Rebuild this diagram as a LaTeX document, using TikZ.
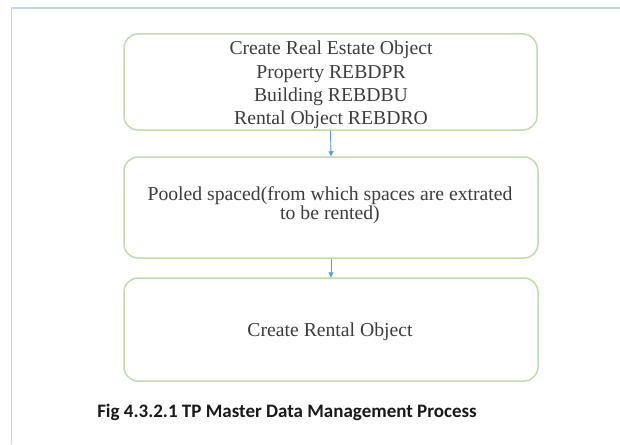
\documentclass[tikz,border=0pt]{standalone}
\usepackage{fontspec}
\setmainfont{Liberation Serif}
\newfontfamily\capfont{Carlito}
\usetikzlibrary{arrows.meta}
\definecolor{frameblue}{RGB}{189,215,238}
\definecolor{boxgreen}{RGB}{190,221,168}
\definecolor{arrowblue}{RGB}{91,155,213}
\definecolor{txtgray}{RGB}{60,60,60}
\definecolor{captxt}{RGB}{25,25,25}
\tikzset{
  procbox/.style={draw=boxgreen, line width=1.5pt, rounded corners=14pt,
    rectangle, inner sep=0pt},
  boxtext/.style={text=txtgray, align=center, inner sep=0pt},
  flowarrow/.style={draw=arrowblue, line width=0.9pt,
    -{Triangle[length=5pt,width=5pt]}},
  frameline/.style={draw=frameblue, line width=1.6pt}
}
\begin{document}
\begin{tikzpicture}[x=1pt,y=-1pt]
\useasboundingbox (0,0) rectangle (620,444);
\fill[white] (0,0) rectangle (620,444);
% frame
\coordinate (fbl) at (11.5,444);
\coordinate (ftl) at (11.5,8.3);
\coordinate (ftr) at (620,8.3);
\draw[frameline] (fbl) -- (ftl) -- (ftr);
% boxes
\node[procbox, minimum width=413pt, minimum height=96pt] (b1) at (330.5,82) {};
\node[boxtext, font=\fontsize{19.7}{23.3}\selectfont] (t1) at (331,85)
  {Create Real Estate Object\\Property REBDPR\\Building REBDBU\\Rental Object REBDRO};
\node[procbox, minimum width=414pt, minimum height=101pt] (b2) at (331,207.5) {};
\node[boxtext, font=\fontsize{19.7}{19}\selectfont] (t2) at (330,205)
  {Pooled spaced(from which spaces are extrated\\to be rented)};
\node[procbox, minimum width=414pt, minimum height=103pt] (b3) at (331,329.5) {};
\node[boxtext, font=\fontsize{19.7}{23.3}\selectfont] (t3) at (330,332)
  {Create Rental Object};
% arrows
\draw[flowarrow] (b1.south) -- (b2.north);
\draw[flowarrow] (b2.south) -- (b3.north);
% caption
\node[text=captxt, inner sep=0pt, font=\capfont\bfseries\fontsize{19}{22}\selectfont] (cap) at (287,412)
  {Fig 4.3.2.1 TP Master Data Management Process};
\end{tikzpicture}
\end{document}
